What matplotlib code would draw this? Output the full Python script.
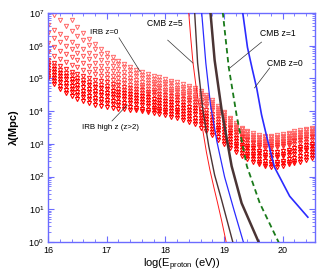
import numpy as np
import matplotlib.pyplot as plt
from matplotlib.ticker import MultipleLocator, LogLocator, FixedLocator

plt.rcParams['font.family'] = ['Liberation Sans', 'DejaVu Sans']

# energy grid (log10 E / eV)
log_e = [16.0, 16.1, 16.2, 16.3, 16.4, 16.5, 16.6, 16.7, 16.8, 16.9,
         17.0, 17.1, 17.2, 17.3, 17.4, 17.5, 17.6, 17.7, 17.8, 17.9,
         18.0, 18.1, 18.2, 18.3, 18.4, 18.5, 18.6, 18.7, 18.8, 18.9,
         19.0, 19.1, 19.2, 19.3, 19.4, 19.5, 19.6, 19.7, 19.8, 19.9,
         20.0, 20.1, 20.2, 20.3, 20.4, 20.5]

# IRB, low redshift (log10 lambda / Mpc)
irb_low_z = [
    [8.0, 7.6, 7.3, 7.05, 6.8, 6.58, 6.39, 6.21, 6.05, 5.9, 5.77, 5.65, 5.54, 5.44, 5.35, 5.27,
     5.2, 5.14, 5.08, 5.03, 4.98, 4.93, 4.88, 4.83, 4.78, 4.72,
     4.63, 4.5, 4.35, 4.17, 3.98, 3.8, 3.64, 3.5, 3.4, 3.32,
     3.27, 3.25, 3.25, 3.27, 3.3, 3.34, 3.38, 3.42, 3.46, 3.5],
    [7.15, 6.95, 6.77, 6.6, 6.45, 6.3, 6.16, 6.02, 5.89, 5.76, 5.64, 5.53, 5.43, 5.34, 5.25, 5.17,
     5.1, 5.04, 4.99, 4.94, 4.9, 4.85, 4.8, 4.75, 4.7, 4.64,
     4.56, 4.43, 4.28, 4.11, 3.93, 3.75, 3.59, 3.45, 3.35, 3.27,
     3.22, 3.2, 3.2, 3.22, 3.25, 3.29, 3.33, 3.37, 3.41, 3.45],
    [6.63, 6.48, 6.35, 6.23, 6.11, 6.0, 5.89, 5.78, 5.67, 5.56, 5.46, 5.37, 5.29, 5.21, 5.14, 5.07,
     5.0, 4.95, 4.9, 4.86, 4.82, 4.77, 4.72, 4.67, 4.62, 4.57,
     4.49, 4.37, 4.22, 4.04, 3.87, 3.69, 3.53, 3.4, 3.3, 3.22,
     3.17, 3.15, 3.15, 3.17, 3.2, 3.24, 3.28, 3.32, 3.36, 3.4],
    [6.39, 6.25, 6.12, 6.0, 5.89, 5.78, 5.68, 5.58, 5.48, 5.39, 5.3, 5.22, 5.15, 5.08, 5.02, 4.96,
     4.9, 4.86, 4.82, 4.78, 4.74, 4.69, 4.65, 4.6, 4.55, 4.5,
     4.42, 4.3, 4.15, 3.98, 3.81, 3.64, 3.48, 3.34, 3.25, 3.17,
     3.12, 3.1, 3.1, 3.12, 3.15, 3.19, 3.23, 3.27, 3.31, 3.35],
    [6.08, 5.96, 5.85, 5.75, 5.65, 5.55, 5.46, 5.38, 5.3, 5.22, 5.15, 5.08, 5.02, 4.96, 4.91, 4.86,
     4.81, 4.77, 4.73, 4.7, 4.66, 4.62, 4.58, 4.53, 4.48, 4.43,
     4.35, 4.23, 4.09, 3.92, 3.75, 3.58, 3.42, 3.29, 3.2, 3.12,
     3.07, 3.05, 3.05, 3.07, 3.1, 3.14, 3.18, 3.22, 3.26, 3.3],
    [5.81, 5.7, 5.6, 5.51, 5.42, 5.34, 5.27, 5.2, 5.13, 5.06, 5.0, 4.95, 4.9, 4.85, 4.81, 4.77,
     4.73, 4.69, 4.65, 4.62, 4.58, 4.54, 4.5, 4.46, 4.41, 4.36,
     4.28, 4.17, 4.02, 3.86, 3.69, 3.52, 3.37, 3.24, 3.15, 3.07,
     3.02, 3.0, 3.0, 3.02, 3.05, 3.09, 3.13, 3.17, 3.21, 3.25],
]

# IRB, high redshift (z>2)
irb_high_z = [
    [5.56, 5.46, 5.37, 5.28, 5.2, 5.12, 5.06, 5.0, 4.95, 4.91, 4.88, 4.83, 4.79, 4.75, 4.71, 4.67,
     4.64, 4.6, 4.57, 4.53, 4.5, 4.46, 4.42, 4.38, 4.34, 4.29,
     4.18, 4.05, 3.91, 3.77, 3.63, 3.49, 3.35, 3.22, 3.11, 3.02,
     2.97, 2.95, 2.95, 2.97, 3.0, 3.04, 3.08, 3.12, 3.16, 3.2],
    [5.48, 5.37, 5.27, 5.17, 5.09, 5.01, 4.95, 4.89, 4.84, 4.8, 4.77, 4.73, 4.69, 4.65, 4.61, 4.58,
     4.55, 4.51, 4.48, 4.44, 4.41, 4.37, 4.33, 4.29, 4.24, 4.19,
     4.08, 3.95, 3.81, 3.68, 3.54, 3.4, 3.26, 3.14, 3.03, 2.94,
     2.89, 2.87, 2.87, 2.89, 2.92, 2.96, 3.0, 3.03, 3.07, 3.11],
    [5.4, 5.28, 5.17, 5.07, 4.99, 4.91, 4.85, 4.79, 4.74, 4.7, 4.67, 4.63, 4.59, 4.55, 4.51, 4.48,
     4.45, 4.42, 4.38, 4.35, 4.32, 4.28, 4.24, 4.19, 4.14, 4.09,
     3.98, 3.86, 3.72, 3.59, 3.45, 3.32, 3.18, 3.06, 2.95, 2.86,
     2.79, 2.75, 2.74, 2.75, 2.78, 2.82, 2.86, 2.91, 2.96, 3.01],
    [5.32, 5.19, 5.07, 4.97, 4.88, 4.8, 4.74, 4.68, 4.63, 4.59, 4.56, 4.52, 4.49, 4.45, 4.42, 4.39,
     4.36, 4.33, 4.29, 4.26, 4.23, 4.19, 4.14, 4.1, 4.05, 3.99,
     3.88, 3.76, 3.63, 3.49, 3.36, 3.23, 3.09, 2.97, 2.86, 2.78,
     2.71, 2.67, 2.66, 2.67, 2.7, 2.74, 2.78, 2.83, 2.88, 2.93],
    [5.24, 5.1, 4.97, 4.87, 4.78, 4.7, 4.63, 4.57, 4.52, 4.48, 4.45, 4.42, 4.39, 4.36, 4.33, 4.3,
     4.27, 4.24, 4.2, 4.17, 4.14, 4.1, 4.05, 4.0, 3.95, 3.9,
     3.79, 3.67, 3.54, 3.41, 3.28, 3.14, 3.01, 2.89, 2.78, 2.7,
     2.63, 2.59, 2.58, 2.59, 2.62, 2.66, 2.7, 2.75, 2.8, 2.85],
    [5.16, 5.01, 4.88, 4.77, 4.67, 4.59, 4.52, 4.46, 4.41, 4.37, 4.34, 4.31, 4.29, 4.26, 4.24, 4.21,
     4.18, 4.15, 4.11, 4.08, 4.05, 4.01, 3.96, 3.91, 3.86, 3.8,
     3.69, 3.58, 3.45, 3.32, 3.19, 3.06, 2.93, 2.81, 2.7, 2.62,
     2.54, 2.48, 2.46, 2.46, 2.49, 2.53, 2.57, 2.62, 2.68, 2.74],
    [5.08, 4.92, 4.78, 4.66, 4.57, 4.49, 4.42, 4.36, 4.31, 4.27, 4.24, 4.21, 4.19, 4.16, 4.14, 4.11,
     4.08, 4.05, 4.02, 3.99, 3.96, 3.92, 3.87, 3.82, 3.76, 3.7,
     3.6, 3.48, 3.35, 3.22, 3.1, 2.97, 2.84, 2.73, 2.62, 2.54,
     2.46, 2.4, 2.38, 2.38, 2.41, 2.45, 2.49, 2.54, 2.6, 2.66],
    [5.0, 4.82, 4.68, 4.56, 4.46, 4.38, 4.31, 4.25, 4.2, 4.16, 4.13, 4.1, 4.08, 4.06, 4.04, 4.02,
     3.99, 3.96, 3.93, 3.9, 3.87, 3.83, 3.78, 3.73, 3.67, 3.6,
     3.5, 3.38, 3.26, 3.13, 3.01, 2.88, 2.76, 2.64, 2.54, 2.46,
     2.38, 2.32, 2.3, 2.3, 2.33, 2.37, 2.41, 2.46, 2.52, 2.58],
]

# CMB curves: (log E, log lambda)
cmb_z5_e = [18.39, 18.43, 18.47, 18.52, 18.58, 18.64, 18.70, 18.76, 18.83, 18.89, 18.96, 19.03, 19.06]
cmb_z5_l = [7.2, 6.3, 5.5, 4.8, 4.1, 3.4, 2.75, 2.2, 1.65, 1.2, 0.65, 0.06, -0.2]
cmb_z4_e = [18.49, 18.50, 18.55, 18.64, 18.74, 18.84, 18.96, 19.15, 19.18]
cmb_z4_l = [7.3, 7.0, 5.47, 4.03, 2.93, 2.05, 1.28, 0.0, -0.2]
cmb_z3_e = [18.60, 18.62, 18.69, 18.77, 18.88, 19.01, 19.17, 19.34, 19.37]
cmb_z3_l = [7.3, 7.0, 5.47, 4.19, 3.06, 1.99, 0.98, -0.06, -0.2]
cmb_z2_e = [18.76, 18.77, 18.84, 18.96, 19.13, 19.30, 19.59, 19.63]
cmb_z2_l = [7.3, 7.0, 5.56, 4.03, 2.32, 1.19, 0.0, -0.2]
cmb_z1_e = [18.96, 18.98, 19.08, 19.22, 19.39, 19.61, 19.93, 19.98]
cmb_z1_l = [7.3, 7.0, 5.35, 3.82, 2.32, 1.19, 0.0, -0.2]
cmb_z0_e = [19.30, 19.32, 19.40, 19.48, 19.56, 19.64, 19.73, 19.86, 20.12, 20.43]
cmb_z0_l = [7.3, 7.0, 5.95, 5.3, 4.68, 3.89, 3.21, 2.29, 1.40, 0.76]

y_ticks = [1e0, 1e1, 1e2, 1e3, 1e4, 1e5, 1e6, 1e7]

fig = plt.figure(figsize=(3.27, 2.76), dpi=100)
ax = fig.add_axes([0.147, 0.123, 0.816, 0.830])

e = np.array(log_e)
light_cols = ['#ff6a6a', '#ff6464', '#ff5e5e', '#ff5858', '#ff5050', '#ff4848']
for vals, c in zip(irb_low_z, light_cols):
    ax.plot(e, 10 ** np.array(vals), ls='none', marker='v', ms=3.1, mfc='none',
            mec=c, mew=0.7, zorder=2)
for i, vals in enumerate(irb_high_z):
    c = '#ff2a2a' if i < 2 else '#ff0000'
    ax.plot(e, 10 ** np.array(vals), ls='none', marker='v', ms=3.0, mfc='none',
            mec=c, mew=0.8, zorder=2)

brown = '#4a3434'
ax.plot(cmb_z5_e, 10 ** np.array(cmb_z5_l), color='#ff1a1a', lw=0.7, zorder=3)
ax.plot(cmb_z4_e, 10 ** np.array(cmb_z4_l), color=brown, lw=1.0, zorder=3)
ax.plot(cmb_z3_e, 10 ** np.array(cmb_z3_l), color='#2b2bff', lw=0.9, zorder=3)
ax.plot(cmb_z2_e, 10 ** np.array(cmb_z2_l), color=brown, lw=1.8, zorder=3)
ax.plot(cmb_z1_e, 10 ** np.array(cmb_z1_l), color='#1a7a1a', lw=1.3, ls=(0, (3, 2)), zorder=3)
ax.plot(cmb_z0_e, 10 ** np.array(cmb_z0_l), color='#2b2bff', lw=1.2, zorder=3)

# labels with leader lines
def note(txt, tx, ty, x0, y0, x1, y1, fs):
    ax.text(tx, 10 ** ty, txt, fontsize=fs, ha='center', va='center', zorder=5)
    ax.plot([x0, x1], [10 ** y0, 10 ** y1], color='#333333', lw=0.5, zorder=4)

note('IRB z=0', 16.96, 6.39, 17.21, 6.24, 17.57, 5.21, 5.7)
note('IRB high z (z>2)', 17.07, 3.51, 17.09, 3.70, 17.35, 4.19, 5.7)
note('CMB z=5', 17.99, 6.69, 18.04, 6.17, 18.47, 5.47, 6.2)
note('CMB z=1', 19.92, 6.36, 19.64, 6.11, 19.10, 5.32, 6.2)
note('CMB z=0', 20.03, 5.47, 19.78, 5.32, 19.52, 4.71, 6.2)

ax.set_yscale('log')
ax.set_xlim(16, 20.55)
ax.set_ylim(1, 1e7)
ax.xaxis.set_major_locator(MultipleLocator(1))
ax.xaxis.set_minor_locator(MultipleLocator(0.2))
ax.yaxis.set_major_locator(FixedLocator(y_ticks))
ax.yaxis.set_minor_locator(LogLocator(base=10, subs=np.arange(2, 10), numticks=20))

axcol = '#6b6bff'
for s in ax.spines.values():
    s.set_color(axcol)
    s.set_linewidth(1.0)
ax.tick_params(which='both', direction='in', top=True, right=True, color=axcol,
               labelsize=6.5, pad=3)
ax.tick_params(which='major', length=4, width=0.8)
ax.tick_params(which='minor', length=2, width=0.6)

ax.set_xlabel('log(E$_{\\mathregular{proton}}$ (eV))', fontsize=8, labelpad=1)
ax.set_ylabel('λ(Mpc)', fontsize=8, fontweight='bold', labelpad=7)

fig.savefig('out.png', dpi=100)
